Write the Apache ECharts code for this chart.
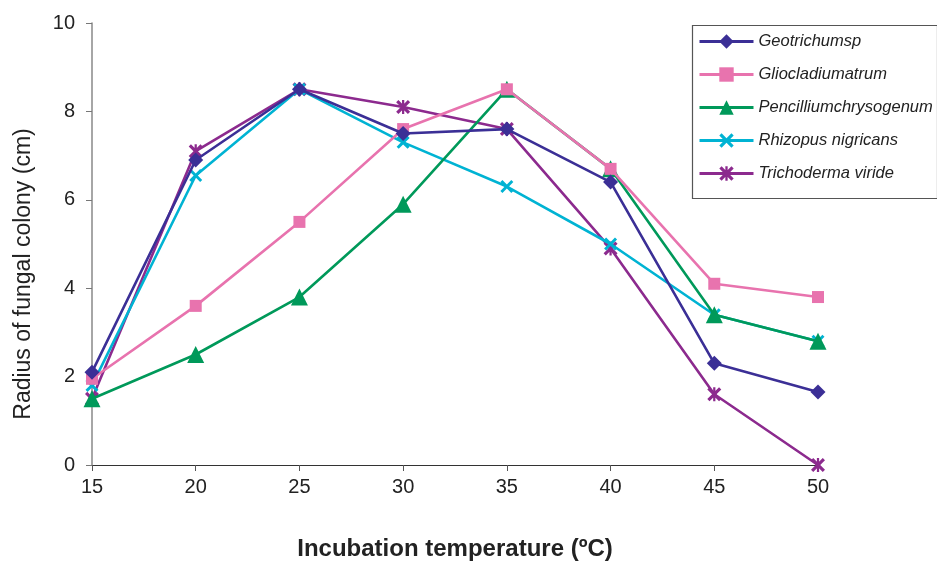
<!DOCTYPE html>
<html>
<head>
<meta charset="utf-8">
<script src="https://cdn.jsdelivr.net/npm/echarts@6/dist/echarts.min.js"></script>
<style>
html,body{margin:0;padding:0;background:#fff;}
#c{width:937px;height:566px;}
</style>
</head>
<body>
<div id="c"></div>
<script>
const temperatures = [15, 20, 25, 30, 35, 40, 45, 50];
const geotrichum   = [2.1, 6.9, 8.5, 7.5, 7.6, 6.4, 2.3, 1.65];
const gliocladium  = [1.95, 3.6, 5.5, 7.6, 8.5, 6.7, 4.1, 3.8];
const pencillium   = [1.5, 2.5, 3.8, 5.9, 8.5, 6.7, 3.4, 2.8];
const rhizopus     = [1.8, 6.55, 8.5, 7.3, 6.3, 5.0, 3.4, 2.8];
const trichoderma  = [1.5, 7.1, 8.5, 8.1, 7.6, 4.9, 1.6, 0.0];
const seriesNames = ['Geotrichumsp', 'Gliocladiumatrum', 'Pencilliumchrysogenum', 'Rhizopus nigricans', 'Trichoderma viride'];
const yTicks = [0, 2, 4, 6, 8, 10];

const xShape = 'path://M0,1.6L1.6,0L5,3.4L8.4,0L10,1.6L6.6,5L10,8.4L8.4,10L5,6.6L1.6,10L0,8.4L3.4,5Z';
const starShape = 'path://M0,1.6L1.6,0L5,3.4L8.4,0L10,1.6L6.6,5L10,8.4L8.4,10L5,6.6L1.6,10L0,8.4L3.4,5ZM4.2,0L5.8,0L5.8,10L4.2,10Z';

const colors = ['#3b2f96', '#e873ae', '#00995a', '#00b3d3', '#8c2a8e'];
const symbols = ['diamond', 'rect', 'triangle', xShape, starShape];
const sizes = [15, 12, 17, 13, 14];
const dataSets = [geotrichum, gliocladium, pencillium, rhizopus, trichoderma];

const series = dataSets.map((d, i) => ({
  name: seriesNames[i],
  type: 'line',
  data: temperatures.map((t, j) => [t, d[j]]),
  symbol: symbols[i],
  symbolSize: sizes[i],
  showAllSymbol: true,
  lineStyle: { color: colors[i], width: 2.6 },
  itemStyle: { color: colors[i] },
  emphasis: { disabled: true },
  z: 10 - i
}));

const chart = echarts.init(document.getElementById('c'), null, { renderer: 'canvas' });
chart.setOption({
  animation: false,
  backgroundColor: '#fff',
  grid: { left: 92, right: 119, top: 23, bottom: 98, containLabel: false },
  xAxis: {
    type: 'value', min: 15, max: 50, interval: 5,
    name: 'Incubation temperature (ºC)',
    nameLocation: 'middle', nameGap: 72,
    nameTextStyle: { fontFamily: 'Liberation Sans', fontSize: 24, fontWeight: 'bold', color: '#222' },
    axisLine: { show: true, lineStyle: { color: '#333', width: 1.2 } },
    axisTick: { show: true, length: 6, lineStyle: { color: '#555' } },
    axisLabel: { fontFamily: 'Liberation Sans', fontSize: 20, color: '#222', margin: 12 },
    splitLine: { show: false }
  },
  yAxis: {
    type: 'value', min: yTicks[0], max: yTicks[yTicks.length - 1], interval: 2,
    name: 'Radius of fungal colony (cm)',
    nameLocation: 'middle', nameGap: 57, nameRotate: 90,
    nameTextStyle: { fontFamily: 'Liberation Sans', fontSize: 23, color: '#222', padding: [0, 60, 0, 0] },
    axisLine: { show: true, lineStyle: { color: '#888', width: 1.5 } },
    axisTick: { show: true, length: 6, lineStyle: { color: '#777' } },
    axisLabel: { fontFamily: 'Liberation Sans', fontSize: 20, color: '#222', margin: 17 },
    splitLine: { show: false }
  },
  legend: {
    orient: 'vertical',
    left: 693, top: 28,
    itemWidth: 54, itemHeight: 18, itemGap: 16,
    data: seriesNames,
    lineStyle: { width: 3 },
    textStyle: { fontFamily: 'Liberation Sans', fontSize: 16.5, fontStyle: 'italic', color: '#222' }
  },
  graphic: [{
    type: 'rect', left: 690, top: 23,
    shape: { width: 245, height: 173 },
    style: { fill: 'none', stroke: '#555', lineWidth: 1.2 },
    z: 100
  }],
  series: series
});
</script>
</body>
</html>
